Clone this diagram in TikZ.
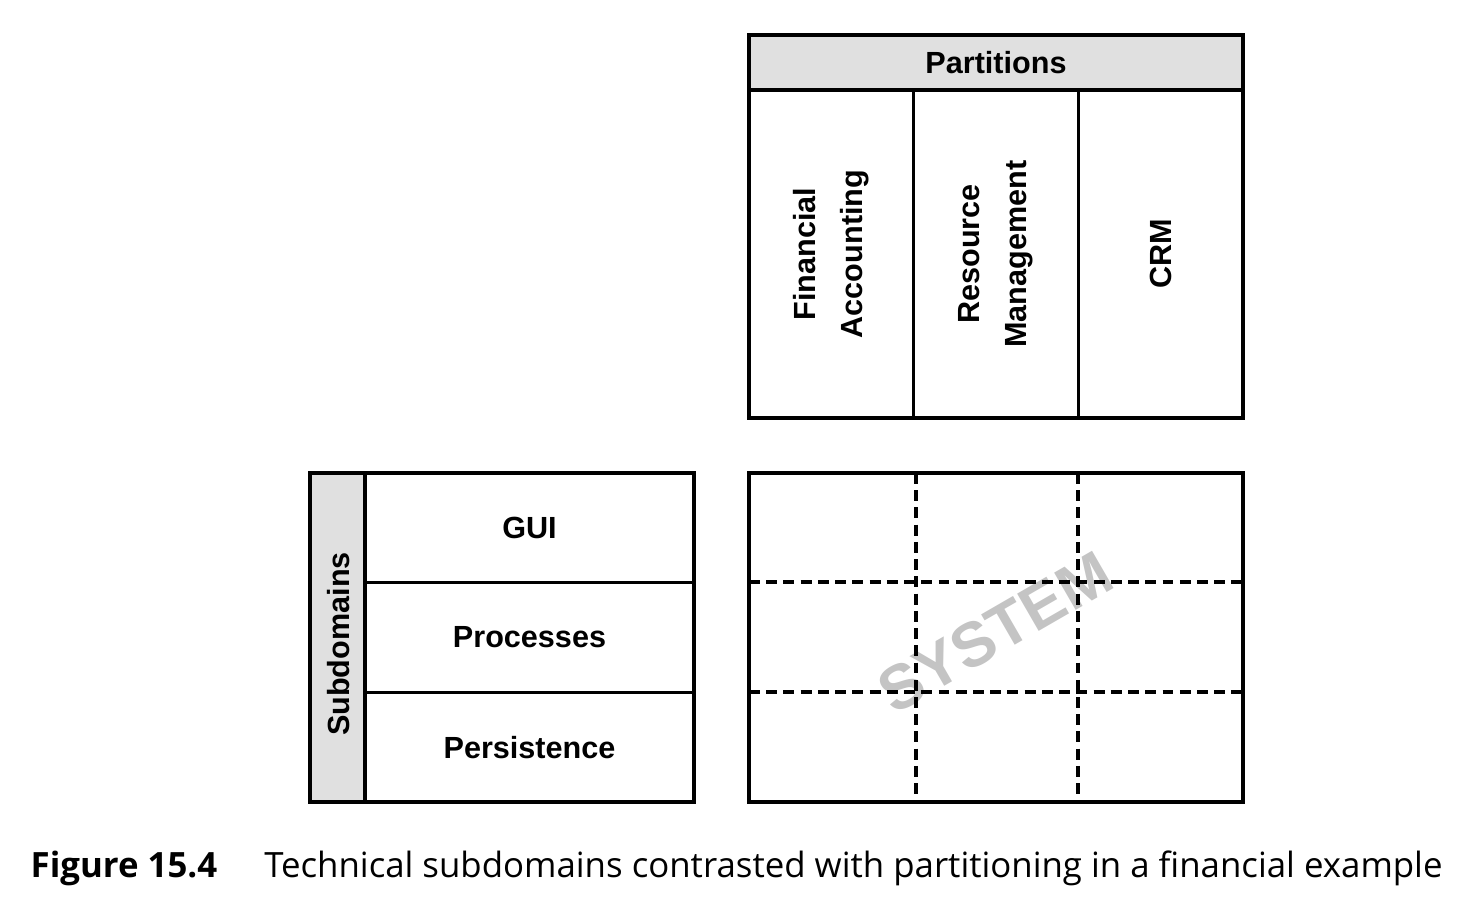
\documentclass[tikz,border=0pt]{standalone}
\usepackage{fontspec}
\setmainfont{Liberation Sans}
\newfontfamily\capfont{Open Sans}
\begin{document}
\begin{tikzpicture}[x=0.01cm,y=-0.01cm,
  every node/.style={font=\fontsize{8.7}{10.2}\selectfont\bfseries, align=center},
  cell/.style={draw, line width=1pt, inner sep=0pt},
  graycell/.style={cell, fill=black!12},
  vlabel/.style={rotate=90, font=\fontsize{8.7}{13.4}\selectfont\bfseries},
  grid/.style={line width=1pt, dash pattern=on 3.1pt off 1.8pt}]
\useasboundingbox (0,0) rectangle (1484,906);
% Partitions table
\node[graycell, minimum width=494*0.01cm, minimum height=55*0.01cm] (part) at (996,62.5) {Partitions};
\node[cell, minimum width=164.7*0.01cm, minimum height=328*0.01cm] (fa) at (831.3,254) {};
\node[cell, minimum width=164.7*0.01cm, minimum height=328*0.01cm] (rm) at (996,254) {};
\node[cell, minimum width=164.7*0.01cm, minimum height=328*0.01cm] (crm) at (1160.7,254) {};
\node[vlabel] (fal) at (fa) {Financial\\Accounting};
\node[vlabel] (rml) at (rm) {Resource\\Management};
\node[vlabel] (crml) at (crm) {CRM};
% Subdomains table
\node[graycell, minimum width=55*0.01cm, minimum height=329*0.01cm] (sub) at (337.5,637.5) {};
\node[vlabel] (subl) at (339,644) {Subdomains};
\node[cell, minimum width=329*0.01cm, minimum height=109.7*0.01cm] (gui) at (529.5,527.8) {GUI};
\node[cell, minimum width=329*0.01cm, minimum height=109.7*0.01cm] (proc) at (529.5,637.5) {Processes};
\node[cell, minimum width=329*0.01cm, minimum height=109.7*0.01cm] (pers) at (529.5,747.2) {Persistence};
% System grid
\node[text=black!23, rotate=30, font=\fontsize{17.8}{20}\selectfont\bfseries] (sys) at (995,632) {SYSTEM};
\node[cell, minimum width=494*0.01cm, minimum height=329*0.01cm] (sysgrid) at (996,637.5) {};
\coordinate (v1t) at (916,473); \coordinate (v1b) at (916,802);
\coordinate (v2t) at (1078,473); \coordinate (v2b) at (1078,802);
\coordinate (h1l) at (749,582); \coordinate (h1r) at (1243,582);
\coordinate (h2l) at (749,692); \coordinate (h2r) at (1243,692);
\draw[grid] (v1t) -- (v1b);
\draw[grid] (v2t) -- (v2b);
\draw[grid] (h1l) -- (h1r);
\draw[grid] (h2l) -- (h2r);
% Caption
\node[anchor=base west, inner sep=0pt, font=\capfont\fontsize{9.9}{12}\selectfont] (cap) at (30,877)
  {\textbf{Figure 15.4}\hspace{1.35em}Technical subdomains contrasted with partitioning in a financial example};
\end{tikzpicture}
\end{document}
